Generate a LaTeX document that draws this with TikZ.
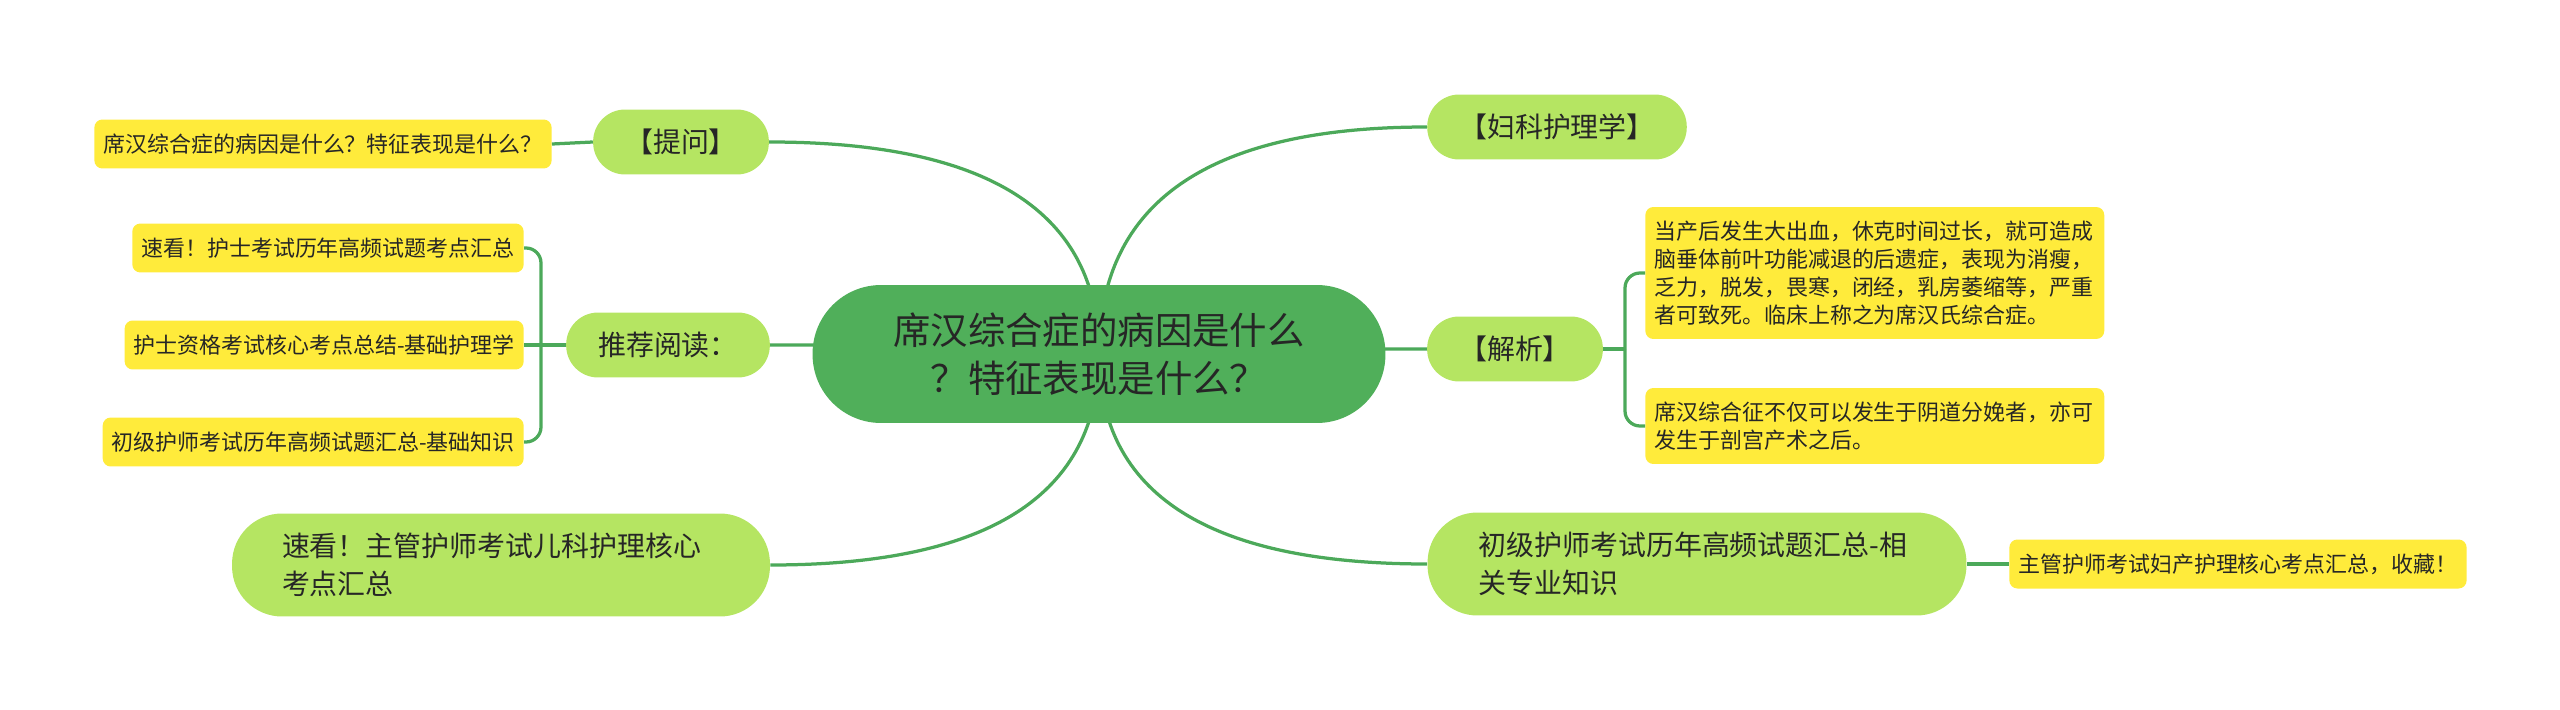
\documentclass[tikz,border=0pt]{standalone}
\usepackage{fontspec}
\newfontfamily\cjk{Noto Sans CJK SC}
\usepackage{tikz}
\usetikzlibrary{calc, backgrounds}
\definecolor{RootGreen}{HTML}{50AF5A}
\definecolor{TopicGreen}{HTML}{B5E562}
\definecolor{LeafYellow}{HTML}{FFEB3B}
\definecolor{LinkGreen}{HTML}{4CA95A}
\definecolor{InkGray}{HTML}{262626}
\tikzset{
  root/.style={fill=RootGreen, rounded corners=1.37cm, align=center, minimum width=11.46cm, minimum height=2.76cm, text=InkGray, font=\cjk\fontsize{21.3pt}{27.3pt}\selectfont},
  topic/.style={fill=TopicGreen, rounded corners=0.64cm, align=center, minimum height=1.3cm, inner xsep=0.64cm, text=InkGray, font=\cjk\fontsize{15.9pt}{21.6pt}\selectfont},
  topicwide/.style={topic, rounded corners=1.0cm, align=left, minimum height=2.06cm, inner xsep=1.0cm, text width=8.76cm},
  leaf/.style={fill=LeafYellow, rounded corners=0.16cm, align=left, minimum height=0.98cm, inner xsep=0.18cm, text=InkGray, font=\cjk\fontsize{12.5pt}{15.9pt}\selectfont},
  link/.style={draw=LinkGreen, line width=0.065cm},
  curvy/.style={to path={.. controls ($(\tikztostart)!0.667!(\tikztostart |- \tikztotarget)$) and ($(\tikztotarget)!0.667!(\tikztostart |- \tikztotarget)$) .. (\tikztotarget) \tikztonodes}}
}
\begin{document}
\begin{tikzpicture}[x=0.02cm, y=-0.02cm]
\useasboundingbox (0,0) rectangle (2560,710);
% centre and main topics
\node[root] (root) at (1099,354) {席汉综合症的病因是什么\\？特征表现是什么？};
\node[topic] (ask) at (681,142) {【提问】};
\node[topic] (read) at (668,345) {推荐阅读：};
\node[topicwide] (kid) at (501,565) {速看！主管护师考试儿科护理核心\\考点汇总};
\node[topic] (gyn) at (1557,127) {【妇科护理学】};
\node[topic] (expl) at (1515,349) {【解析】};
\node[topicwide, text width=8.74cm, inner xsep=1.02cm] (junior) at (1697,564) {初级护师考试历年高频试题汇总-相\\关专业知识};
% leaves
\node[leaf] (askleaf) at (323,144) {席汉综合症的病因是什么？特征表现是什么？};
\node[leaf, anchor=east] (read1) at (524,248) {速看！护士考试历年高频试题考点汇总};
\node[leaf, anchor=east] (read2) at (524,345) {护士资格考试核心考点总结-基础护理学};
\node[leaf, anchor=east] (read3) at (524,442) {初级护师考试历年高频试题汇总-基础知识};
\node[leaf, anchor=west, text width=8.82cm, minimum height=2.64cm] (expl1) at (1645,273) {当产后发生大出血，休克时间过长，就可造成\\脑垂体前叶功能减退的后遗症，表现为消瘦，\\乏力，脱发，畏寒，闭经，乳房萎缩等，严重\\者可致死。临床上称之为席汉氏综合症。};
\node[leaf, anchor=west, text width=8.82cm, minimum height=1.52cm] (expl2) at (1645,426) {席汉综合征不仅可以发生于阴道分娩者，亦可\\发生于剖宫产术之后。};
\node[leaf, anchor=west] (juniorleaf) at (2009,564) {主管护师考试妇产护理核心考点汇总，收藏！};
\coordinate (readfork) at (541,345);
\coordinate (explfork) at (1625,349);
\begin{scope}[on background layer]
\draw[link] (root.center) to[curvy] (ask.east);
\draw[link] (root.center) to[curvy] (read.east);
\draw[link] (root.center) to[curvy] (kid.east);
\draw[link] (root.center) to[curvy] (gyn.west);
\draw[link] (root.center) to[curvy] (expl.west);
\draw[link] (root.center) to[curvy] (junior.west);
\end{scope}
\draw[link] (ask.west) -- (askleaf.east);
\draw[link] (read.west) -- (readfork);
\draw[link, rounded corners=0.3cm] (readfork) |- (read1.east);
\draw[link] (readfork) -- (read2.east);
\draw[link, rounded corners=0.3cm] (readfork) |- (read3.east);
\draw[link] (expl.east) -- (explfork);
\draw[link, rounded corners=0.3cm] (explfork) |- (expl1.west);
\draw[link, rounded corners=0.3cm] (explfork) |- (expl2.west);
\draw[link] (junior.east) -- (juniorleaf.west);
\end{tikzpicture}
\end{document}
